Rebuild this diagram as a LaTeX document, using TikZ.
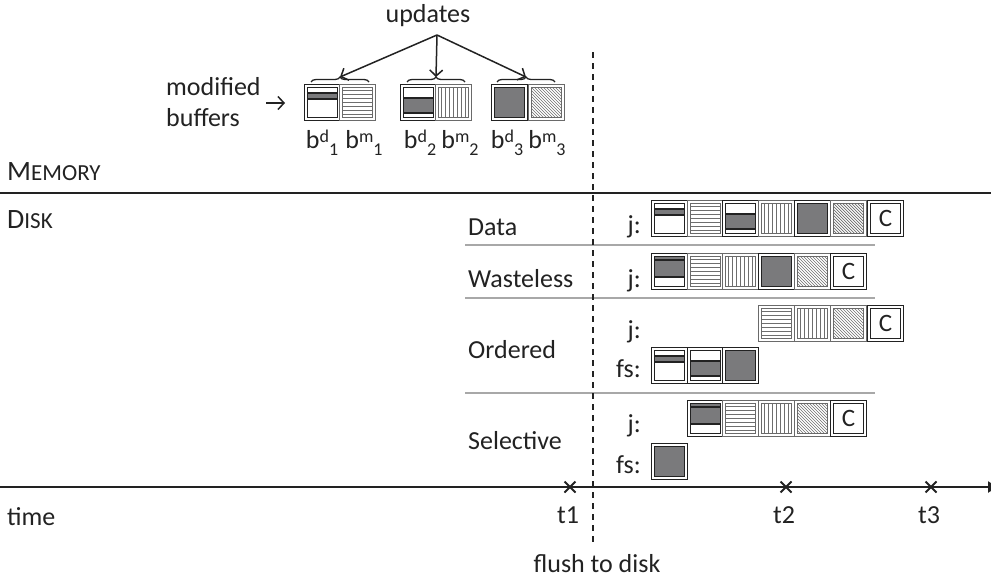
\documentclass[tikz,border=0pt]{standalone}
\usepackage{fontspec}
\setmainfont{Carlito}
\usetikzlibrary{arrows.meta,decorations.pathreplacing}

\definecolor{dk}{HTML}{222222}
\definecolor{gf}{HTML}{7A7A7C}
\definecolor{mg}{HTML}{6A6A6A}
\definecolor{sep}{HTML}{A8A8A8}
\definecolor{hl}{HTML}{6E6E6E}

% buffer label: b with a superscript and a following subscript
\newcommand\bufl[2]{b\raisebox{6pt}{\fontsize{18}{18}\selectfont #1}\raisebox{-7pt}{\fontsize{18}{18}\selectfont #2}}

\tikzset{
  every node/.style={font=\fontsize{26}{30}\selectfont, inner sep=0pt, text=dk},
  frm/.style={line width=1.5pt, double=white, double distance=1.1pt},
  dframe/.style={frm, draw=dk},
  mframe/.style={frm, draw=mg},
  band/.style={draw=dk, line width=1.3pt},
  pat/.style={draw=hl, line width=1pt},
  hatch/.style={draw=hl, line width=0.7pt},
  thick line/.style={draw=dk, line width=1.6pt},
  septr/.style={draw=sep, line width=1.8pt},
  cross/.style={draw=dk, line width=2pt},
  barb/.style={-{Straight Barb[length=6pt,width=13pt]}, draw=dk, line width=1.5pt},
  brc/.style={draw=dk, line width=1.3pt, decorate, decoration={brace, amplitude=5pt}},
  % data buffer with a thin updated band near the top
  pics/dA/.style={code={
    \fill[white] (0,0) rectangle (33,33);
    \fill[gf] (0,7) rectangle (33,13);
    \draw[band] (0,7) -- (33,7) (0,13) -- (33,13);
    \draw[dframe] (0,0) rectangle (33,33);
  }},
  % data buffer with a large updated region
  pics/dB/.style={code={
    \fill[white] (0,0) rectangle (33,33);
    \fill[gf] (0,12) rectangle (33,27);
    \draw[band] (0,12) -- (33,12) (0,27) -- (33,27);
    \draw[dframe] (0,0) rectangle (33,33);
  }},
  % fully updated data buffer
  pics/dC/.style={code={
    \fill[gf] (0,0) rectangle (33,33);
    \draw[dframe] (0,0) rectangle (33,33);
  }},
  % merged data buffer (both updates in one block)
  pics/dAB/.style={code={
    \fill[white] (0,0) rectangle (33,33);
    \fill[gf] (0,0) rectangle (33,22);
    \draw[band] (0,5) -- (33,5) (0,22) -- (33,22);
    \draw[dframe] (0,0) rectangle (33,33);
  }},
  % metadata buffer, horizontal lines
  pics/mH/.style={code={
    \fill[white] (0,0) rectangle (33,33);
    \foreach \k in {4.1,8.2,...,29} \draw[pat] (0,\k) -- (33,\k);
    \draw[mframe] (0,0) rectangle (33,33);
  }},
  % metadata buffer, vertical lines
  pics/mV/.style={code={
    \fill[white] (0,0) rectangle (33,33);
    \foreach \k in {4.1,8.2,...,29} \draw[pat] (\k,0) -- (\k,33);
    \draw[mframe] (0,0) rectangle (33,33);
  }},
  % metadata buffer, diagonal hatching
  pics/mD/.style={code={
    \fill[white] (0,0) rectangle (33,33);
    \begin{scope}
      \clip (0,0) rectangle (33,33);
      \foreach \k in {-33,-30,...,33} \draw[hatch] (\k,0) -- (\k+33,33);
    \end{scope}
    \draw[mframe] (0,0) rectangle (33,33);
  }},
  % commit block
  pics/cC/.style={code={
    \fill[white] (0,0) rectangle (33,33);
    \draw[dframe] (0,0) rectangle (33,33);
    \node[font=\fontsize{25}{25}\selectfont] at (16.5,16.5) {C};
  }},
}

\begin{document}
\begin{tikzpicture}[x=1pt,y=-1pt]
\useasboundingbox (0,0) rectangle (991,581);

% ---------------- memory part ----------------
\node[anchor=base] (upd) at (428,22) {updates};
\node[anchor=base west] (modif) at (166,95) {modified};
\node[anchor=base west] (buff) at (166,126) {buffers};
\coordinate (mbA) at (266,103);
\coordinate (mbB) at (285,103);
\draw[barb] (mbA) -- (mbB);

\pic at (306,86) {dA};
\pic at (341,86) {mH};
\pic at (402,86) {dB};
\pic at (437,86) {mV};
\pic at (493,86) {dC};
\pic at (530,86) {mD};

% braces over the buffer pairs
\draw[brc] (311,82) -- (369,82);
\draw[brc] (407,82) -- (465,82);
\draw[brc] (497,82) -- (555,82);
\coordinate (updsrc) at (437,35);
\coordinate (br1) at (340,77);
\coordinate (br2) at (436,77);
\coordinate (br3) at (526,77);
\draw[barb] (updsrc) -- (br1);
\draw[barb] (updsrc) -- (br2);
\draw[barb] (updsrc) -- (br3);

\node[anchor=base] (l1) at (322,148) {\bufl{d}{1}};
\node[anchor=base] (l2) at (364,148) {\bufl{m}{1}};
\node[anchor=base] (l3) at (420,148) {\bufl{d}{2}};
\node[anchor=base] (l4) at (460,148) {\bufl{m}{2}};
\node[anchor=base] (l5) at (507,148) {\bufl{d}{3}};
\node[anchor=base] (l6) at (547,148) {\bufl{m}{3}};

\node[anchor=base west] (mem) at (7,180) {{\fontsize{28}{28}\selectfont M}{\fontsize{23}{23}\selectfont EMORY}};
\draw[thick line] (0,193) -- (991,193);
\node[anchor=base west] (disk) at (7,228) {{\fontsize{28}{28}\selectfont D}{\fontsize{23}{23}\selectfont ISK}};

% ---------------- journaling modes ----------------
\node[anchor=base west] (mData) at (468,235) {Data};
\node[anchor=base west] (mWaste) at (468,287) {Wasteless};
\node[anchor=base west] (mOrd) at (468,358) {Ordered};
\node[anchor=base west] (mSel) at (468,449) {Selective};

\draw[septr] (465,245) -- (875,245);
\draw[septr] (465,298) -- (875,298);
\draw[septr] (465,393) -- (875,393);

\node[anchor=base east] (jD) at (641,233) {j:};
\node[anchor=base east] (jW) at (641,287) {j:};
\node[anchor=base east] (jO) at (641,338) {j:};
\node[anchor=base east] (fO) at (641,377) {fs:};
\node[anchor=base east] (jS) at (641,432) {j:};
\node[anchor=base east] (fS) at (641,473) {fs:};

% Data mode
\pic at (653,202) {dA};
\pic at (689,202) {mH};
\pic at (724,202) {dB};
\pic at (760,202) {mV};
\pic at (796,202) {dC};
\pic at (832,202) {mD};
\pic at (869,202) {cC};
% Wasteless mode
\pic at (653,255) {dAB};
\pic at (689,255) {mH};
\pic at (724,255) {mV};
\pic at (760,255) {dC};
\pic at (796,255) {mD};
\pic at (832,255) {cC};
% Ordered mode
\pic at (760,307) {mH};
\pic at (796,307) {mV};
\pic at (832,307) {mD};
\pic at (869,307) {cC};
\pic at (653,349) {dA};
\pic at (689,349) {dB};
\pic at (724,349) {dC};
% Selective mode
\pic at (689,402) {dAB};
\pic at (724,402) {mH};
\pic at (760,402) {mV};
\pic at (796,402) {mD};
\pic at (832,402) {cC};
\pic at (653,445) {dC};

% ---------------- time axis ----------------
\coordinate (t0) at (0,487);
\coordinate (tend) at (1000,487);
\draw[thick line, -{Latex[length=12pt,width=12pt]}] (t0) -- (tend);
\foreach \x in {570,786,931}
  \draw[cross] (\x-5.5,481.5) -- (\x+5.5,492.5) (\x-5.5,492.5) -- (\x+5.5,481.5);
\node[anchor=base west] (time) at (7,525) {time};
\node[anchor=base] (t1) at (568,523) {t1};
\node[anchor=base] (t2) at (784,523) {t2};
\node[anchor=base] (t3) at (929,523) {t3};

% flush point
\coordinate (fl) at (593,52);
\coordinate (flb) at (593,542);
\draw[dk, line width=1.5pt, dash pattern=on 6pt off 5pt] (fl) -- (flb);
\node[anchor=base] (flush) at (597,572) {flush to disk};
\end{tikzpicture}
\end{document}
